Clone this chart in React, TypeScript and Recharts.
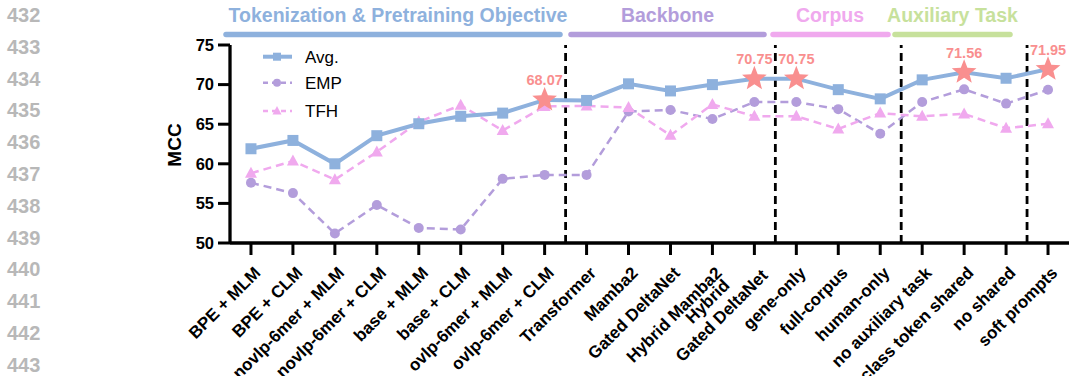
import React from "react";
import {
  LineChart,
  Line,
  XAxis,
  YAxis,
  ReferenceLine,
  LabelList,
  Legend,
} from "recharts";

const FONT = "'Liberation Sans', Arial, Helvetica, sans-serif";

// x categories (line break inside the two-line label)
const categories = [
  "BPE + MLM",
  "BPE + CLM",
  "novlp-6mer + MLM",
  "novlp-6mer + CLM",
  "base + MLM",
  "base + CLM",
  "ovlp-6mer + MLM",
  "ovlp-6mer + CLM",
  "Transformer",
  "Mamba2",
  "Gated DeltaNet",
  "Hybrid Mamba2",
  "Hybrid\nGated DeltaNet",
  "gene-only",
  "full-corpus",
  "human-only",
  "no auxiliary task",
  "class token shared",
  "no shared",
  "soft prompts",
];

const avg = [61.9, 62.95, 60.0, 63.55, 65.06, 66.0, 66.4, 68.07, 68.0, 70.1, 69.2, 70.0, 70.75, 70.75, 69.36, 68.2, 70.6, 71.56, 70.8, 71.95];
const emp = [57.6, 56.3, 51.2, 54.8, 51.9, 51.7, 58.1, 58.6, 58.6, 66.6, 66.8, 65.65, 67.8, 67.8, 66.9, 63.8, 67.8, 69.4, 67.6, 69.35];
const tfh = [58.8, 60.35, 58.0, 61.5, 65.3, 67.4, 64.2, 67.25, 67.3, 67.1, 63.6, 67.5, 66.0, 66.0, 64.4, 66.4, 66.0, 66.3, 64.5, 65.05];

// best Avg point per group (starred)
const bestIdx = [7, 12, 13, 17, 19];
// group separators sit between these category positions
const separators = [7.5, 12.5, 15.5, 18.5];
const yTicks = [50, 55, 60, 65, 70, 75];
const lineNos = ["432", "433", "434", "435", "436", "437", "438", "439", "440", "441", "442", "443"];

const groupNames = ["Tokenization & Pretraining Objective", "Backbone", "Corpus", "Auxiliary Task"];

const BLUE = "#8eb1dd";
const PURPLE = "#b39ddb";
const PINK = "#f0a9ee";
const GREEN = "#c7e19c";
const STAR = "#f98f8f";

const data = categories.map((name, i) => ({
  idx: i,
  name,
  avg: avg[i],
  emp: emp[i],
  tfh: tfh[i],
  best: bestIdx.includes(i) ? avg[i] : null,
}));

function starPath(cx: number, cy: number, ro: number, ri: number) {
  const pts: string[] = [];
  for (let k = 0; k < 10; k++) {
    const r = k % 2 === 0 ? ro : ri;
    const a = -Math.PI / 2 + (k * Math.PI) / 5;
    pts.push(`${(cx + r * Math.cos(a)).toFixed(2)},${(cy + r * Math.sin(a)).toFixed(2)}`);
  }
  return "M" + pts.join("L") + "Z";
}

const AvgDot = (p: any) => {
  const { cx, cy, index } = p;
  if (cx == null || cy == null) return <g key={index} />;
  if (bestIdx.includes(index)) {
    return <path key={index} d={starPath(cx, cy, 13, 5.6)} fill={STAR} />;
  }
  return <rect key={index} x={cx - 5.5} y={cy - 5.5} width={11} height={11} fill={BLUE} />;
};

const EmpDot = (p: any) => {
  const { cx, cy, index } = p;
  if (cx == null || cy == null) return <g key={index} />;
  return <circle key={index} cx={cx} cy={cy} r={5} fill={PURPLE} />;
};

const TfhDot = (p: any) => {
  const { cx, cy, index } = p;
  if (cx == null || cy == null) return <g key={index} />;
  return (
    <polygon
      key={index}
      points={`${cx},${cy - 6.5} ${cx - 6},${cy + 4.5} ${cx + 6},${cy + 4.5}`}
      fill={PINK}
    />
  );
};

const XTick = (p: any) => {
  const { x, y, payload } = p;
  const label = categories[payload.value] ?? "";
  const lines = label.split("\n");
  const style = { fontFamily: FONT, fontSize: 17, fontWeight: 700, fill: "#000" } as const;
  if (lines.length === 1) {
    return (
      <g transform={`translate(${x + 10.5},${y + 19}) rotate(-45)`}>
        <text textAnchor="end" style={style}>
          {label}
        </text>
      </g>
    );
  }
  return (
    <g transform={`translate(${x + 10.5},${y + 19}) rotate(-45)`}>
      <text textAnchor="middle" x={-60} y={-15.5} style={style}>
        {lines[0]}
      </text>
      <text textAnchor="middle" x={-60} y={4.5} style={style}>
        {lines[1]}
      </text>
    </g>
  );
};

const BestLabel = (p: any) => {
  const vb = p.viewBox || {};
  const x = p.x ?? vb.x;
  const y = p.y ?? vb.y;
  if (p.value == null || x == null || y == null) return null;
  return (
    <text
      x={x}
      y={y - 14.5}
      textAnchor="middle"
      style={{ fontFamily: FONT, fontSize: 14.5, fontWeight: 700, fill: STAR }}
    >
      {Number(p.value).toFixed(2)}
    </text>
  );
};

const LegendBox = () => {
  const rows = [
    { name: "Avg.", color: BLUE, dash: undefined, width: 4, y: 12.7 },
    { name: "EMP", color: PURPLE, dash: "5 4", width: 2.5, y: 38.7 },
    { name: "TFH", color: PINK, dash: "5 4", width: 2.5, y: 67 },
  ];
  return (
    <svg width={130} height={80} style={{ overflow: "visible" }}>
      {rows.map((r, i) => (
        <g key={r.name}>
          <line x1={8} x2={37} y1={r.y} y2={r.y} stroke={r.color} strokeWidth={r.width} strokeDasharray={r.dash} />
          {i === 0 && <rect x={18} y={r.y - 4} width={8} height={8} fill={r.color} />}
          {i === 1 && <circle cx={22} cy={r.y} r={4} fill={r.color} />}
          {i === 2 && <polygon points={`22,${r.y - 5} 17.5,${r.y + 3.5} 26.5,${r.y + 3.5}`} fill={r.color} />}
          <text x={50} y={r.y} dy="0.36em" style={{ fontFamily: FONT, fontSize: 17, fill: "#000" }}>
            {r.name}
          </text>
        </g>
      ))}
    </svg>
  );
};

export default function App() {
  return (
    <div style={{ position: "absolute", left: 0, top: 0, width: 1069, height: 376, background: "#fff" }}>
      <LineChart width={1069} height={376} data={data} margin={{ top: 45, right: 0, bottom: 0, left: 0 }}>
        <XAxis
          dataKey="idx"
          type="number"
          domain={[-0.5, 19.5]}
          ticks={categories.map((_, i) => i)}
          interval={0}
          height={133}
          tickSize={12}
          tickMargin={0}
          axisLine={{ stroke: "#000", strokeWidth: 3.3 }}
          tickLine={{ stroke: "#000", strokeWidth: 3 }}
          tick={<XTick />}
        />
        <YAxis
          type="number"
          domain={[50, 75]}
          ticks={yTicks}
          interval={0}
          width={230}
          tickSize={12}
          tickMargin={4}
          axisLine={{ stroke: "#000", strokeWidth: 3.3 }}
          tickLine={{ stroke: "#000", strokeWidth: 3 }}
          tick={{ fill: "#000", fontSize: 16.5, fontWeight: 700, fontFamily: FONT }}
        />
        {separators.map((s) => (
          <ReferenceLine key={s} x={s} stroke="#000" strokeWidth={2.8} strokeDasharray="8 5" />
        ))}
        <Legend
          layout="horizontal"
          verticalAlign="middle"
          align="center"
          wrapperStyle={{ position: "absolute", left: 255, top: 44, width: 130, height: 80 }}
          content={() => <LegendBox />}
        />
        <Line
          dataKey="emp"
          stroke={PURPLE}
          strokeWidth={2.5}
          strokeDasharray="8 5"
          dot={EmpDot}
          activeDot={false}
          isAnimationActive={false}
        />
        <Line
          dataKey="tfh"
          stroke={PINK}
          strokeWidth={2.5}
          strokeDasharray="8 5"
          dot={TfhDot}
          activeDot={false}
          isAnimationActive={false}
        />
        <Line
          dataKey="avg"
          stroke={BLUE}
          strokeWidth={4}
          dot={AvgDot}
          activeDot={false}
          isAnimationActive={false}
        >
          <LabelList dataKey="best" content={BestLabel} />
        </Line>
      </LineChart>
      <svg
        width={1069}
        height={376}
        style={{ position: "absolute", left: 0, top: 0, pointerEvents: "none" }}
      >
        {lineNos.map((n, i) => (
          <text
            key={n}
            x={7}
            y={22 + i * 31.8}
            style={{ fontFamily: FONT, fontSize: 20, fontWeight: 700, fill: "#b8b8b8" }}
          >
            {n}
          </text>
        ))}
        <text
          transform="translate(181,145) rotate(-90)"
          textAnchor="middle"
          style={{ fontFamily: FONT, fontSize: 19, fontWeight: 700, fill: "#000" }}
        >
          MCC
        </text>
        <g style={{ fontFamily: FONT, fontSize: 19.5, fontWeight: 700 }} textAnchor="middle">
          <text x={398} y={22} fill={BLUE}>{groupNames[0]}</text>
          <text x={667.5} y={22} fill={PURPLE}>{groupNames[1]}</text>
          <text x={830} y={22} fill={PINK}>{groupNames[2]}</text>
          <text x={952.5} y={22} fill={GREEN}>{groupNames[3]}</text>
        </g>
        <g strokeWidth={5.5} strokeLinecap="round">
          <line x1={226} x2={560} y1={34.5} y2={34.5} stroke={BLUE} />
          <line x1={571} x2={764} y1={34.5} y2={34.5} stroke={PURPLE} />
          <line x1={773} x2={888} y1={34.5} y2={34.5} stroke={PINK} />
          <line x1={895} x2={1010} y1={34.5} y2={34.5} stroke={GREEN} />
        </g>
      </svg>
    </div>
  );
}
